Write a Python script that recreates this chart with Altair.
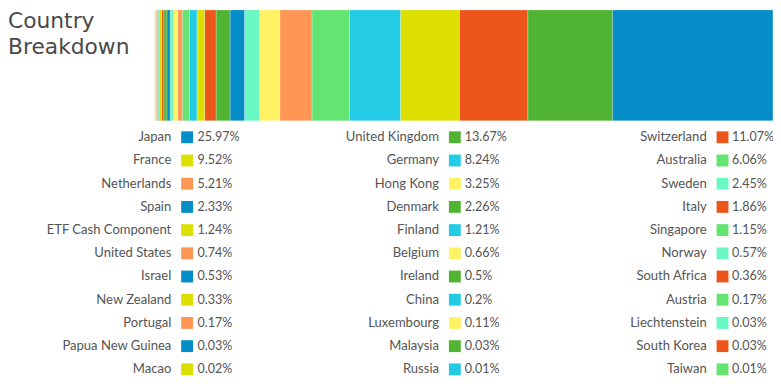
import altair as alt
import pandas as pd

countries = ["Japan", "United Kingdom", "Switzerland", "France", "Germany", "Australia",
             "Netherlands", "Hong Kong", "Sweden", "Spain", "Denmark", "Italy",
             "ETF Cash Component", "Finland", "Singapore", "United States", "Belgium", "Norway",
             "Israel", "Ireland", "South Africa", "New Zealand", "China", "Austria",
             "Portugal", "Luxembourg", "Liechtenstein", "Papua New Guinea", "Malaysia", "South Korea",
             "Macao", "Russia", "Taiwan"]
weights = [25.97, 13.67, 11.07, 9.52, 8.24, 6.06,
           5.21, 3.25, 2.45, 2.33, 2.26, 1.86,
           1.24, 1.21, 1.15, 0.74, 0.66, 0.57,
           0.53, 0.5, 0.36, 0.33, 0.2, 0.17,
           0.17, 0.11, 0.03, 0.03, 0.03, 0.03,
           0.02, 0.01, 0.01]
palette = ["#058dc7", "#50b432", "#ed561b", "#dddf00", "#24cbe5",
           "#64e572", "#ff9655", "#fff263", "#6af9c4"]
title_lines = ["Country", "Breakdown"]

df = pd.DataFrame({
    "country": countries,
    "pct": weights,
    "rank": list(range(len(countries))),
})
df["color"] = [palette[i % len(palette)] for i in df["rank"]]
df["row"] = df["rank"] // 3
df["col"] = df["rank"] % 3
df["label"] = [f"{v:g}%" for v in weights]

base = alt.Chart(df)

bar = base.transform_window(
    end="sum(pct)", sort=[alt.SortField("rank", order="descending")], frame=[None, 0]
).transform_calculate(
    start="datum.end - datum.pct"
).mark_rect(stroke="white", strokeWidth=0.4, strokeOpacity=0.6).encode(
    x=alt.X("start:Q", axis=None,
            scale=alt.Scale(domain=[0, 100], range=[148, 773], nice=False, zero=True)),
    x2="end:Q",
    y=alt.value(0),
    y2=alt.value(112),
    color=alt.Color("color:N", scale=None, legend=None),
)

ys = alt.Y("row:Q", axis=None, scale=alt.Scale(domain=[0, 10], range=[128.7, 363.2], nice=False, zero=False))

def xs(lo, hi):
    return alt.X("col:Q", axis=None, scale=alt.Scale(domain=[0, 2], range=[lo, hi], nice=False, zero=False))

font = "Lato"
names = base.mark_text(align="right", baseline="middle", font=font, fontSize=13.2,
                       color="#555555").encode(x=xs(165, 706), y=ys, text="country:N")
squares = base.mark_square(size=144, opacity=1).encode(
    x=xs(181, 722), y=ys, color=alt.Color("color:N", scale=None, legend=None))
vals = base.mark_text(align="left", baseline="middle", font=font, fontSize=12.7,
                      color="#555555").encode(x=xs(191.5, 731.5), y=ys, text="label:N")

title = alt.Chart(pd.DataFrame({"t": [0]})).mark_text(
    text=title_lines, align="left", baseline="alphabetic", font="DejaVu Sans",
    fontSize=22, lineHeight=25.6, color="#4a4a4a"
).encode(x=alt.value(0), y=alt.value(18.7))

chart = alt.layer(bar, names, squares, vals, title).resolve_scale(
    x="independent", y="independent"
).properties(
    width=773, height=370, padding=0,
    autosize=alt.AutoSizeParams(type="none")
).configure_view(stroke=None)

chart.save("out.html", embed_options={"renderer": "svg", "actions": False})
